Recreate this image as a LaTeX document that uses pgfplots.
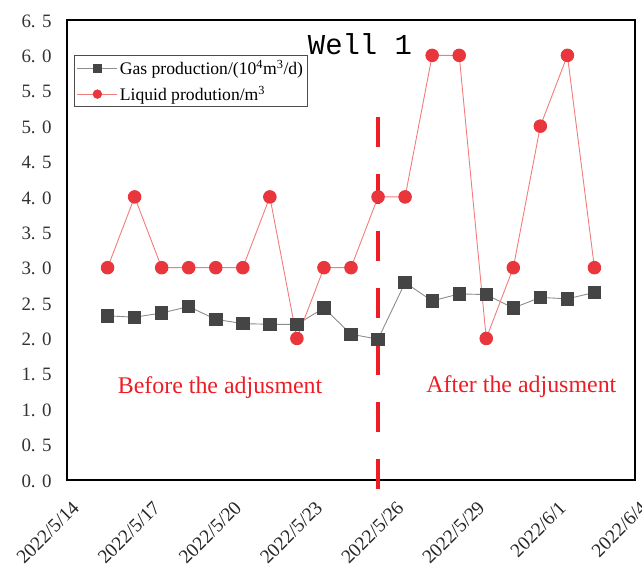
\documentclass[border=0pt]{standalone}
\usepackage{pgfplots}
\pgfplotsset{compat=1.18}
\usepackage{fontspec}
\setmainfont{Liberation Serif}
\newfontfamily\mono{Liberation Mono}
\definecolor{gasdark}{HTML}{454545}
\definecolor{gasline}{HTML}{8C8C8C}
\definecolor{liqred}{HTML}{E8363C}
\definecolor{liqline}{HTML}{F27C7C}
\definecolor{dashred}{HTML}{EE1C25}
\begin{document}
\begin{tikzpicture}[x=1bp,y=1bp]
\begin{axis}[
  at={(0,0)}, anchor=south west,
  scale only axis, width=568bp, height=460bp,
  xmin=0, xmax=21, ymin=0, ymax=6.5,
  axis line style={line width=1.6bp, black},
  major tick length=0pt,
  xtick={0,3,6,9,12,15,18,21},
  xticklabels={2022/5/14,2022/5/17,2022/5/20,2022/5/23,2022/5/26,2022/5/29,2022/6/1,2022/6/4},
  xticklabel style={xshift=4bp, yshift=-17bp, rotate=45, anchor=north east, font=\fontsize{19.5}{19.5}\selectfont, text=black!85, inner sep=2bp},
  ytick={0,0.5,...,6.5},
  yticklabels={{0. 0},{0. 5},{1. 0},{1. 5},{2. 0},{2. 5},{3. 0},{3. 5},{4. 0},{4. 5},{5. 0},{5. 5},{6. 0},{6. 5}},
  yticklabel style={font=\fontsize{19}{19}\selectfont, text=black!80, xshift=-12bp, yshift=-1bp},
  legend style={at={(axis cs:0.26,6.0)}, anchor=north west, draw=black!70, line width=0.8bp,
    font=\fontsize{17.7}{19}\selectfont, inner sep=2.5bp, row sep=6bp, cells={anchor=west}},
  legend image code/.code={\draw[#1, mark size=4.2bp, mark repeat=2, mark phase=2] plot coordinates {(0bp,0bp)(20bp,0bp)(40bp,0bp)};},
  legend cell align=left,
  clip=false,
]
\addplot[color=gasline, line width=0.9bp, mark=square*, mark size=6.2bp, mark options={fill=gasdark, draw=gasdark}]
 coordinates {(1.5,2.32)(2.5,2.30)(3.5,2.36)(4.5,2.45)(5.5,2.27)(6.5,2.21)(7.5,2.20)(8.5,2.20)(9.5,2.43)(10.5,2.06)(11.5,1.99)(12.5,2.79)(13.5,2.53)(14.5,2.63)(15.5,2.62)(16.5,2.43)(17.5,2.58)(18.5,2.56)(19.5,2.65)};
\addlegendentry{Gas production/(10\textsuperscript{4}m\textsuperscript{3}/d)}
\addplot[color=liqline, line width=0.9bp, mark=*, mark size=6.3bp, mark options={fill=liqred, draw=liqred}]
 coordinates {(1.5,3)(2.5,4)(3.5,3)(4.5,3)(5.5,3)(6.5,3)(7.5,4)(8.5,2)(9.5,3)(10.5,3)(11.5,4)(12.5,4)(13.5,6)(14.5,6)(15.5,2)(16.5,3)(17.5,5)(18.5,6)(19.5,3)};
\addlegendentry{Liquid prodution/m\textsuperscript{3}}
\addplot[forget plot, color=dashred, line width=4.5bp, dash pattern=on 30bp off 27bp]
 coordinates {(11.5,5.13)(11.5,-0.23)};
\node[text=dashred, font=\fontsize{24}{24}\selectfont] at (axis cs:5.66,1.3) {Before the adjusment};
\node[text=dashred, font=\fontsize{24}{24}\selectfont] at (axis cs:16.8,1.32) {After the adjusment};
\node[font=\mono\fontsize{29}{29}\selectfont] at (axis cs:10.83,6.16) {Well 1};
\end{axis}
\pgfresetboundingbox
\path (-67,-88) rectangle (575,480);
\end{tikzpicture}
\end{document}
